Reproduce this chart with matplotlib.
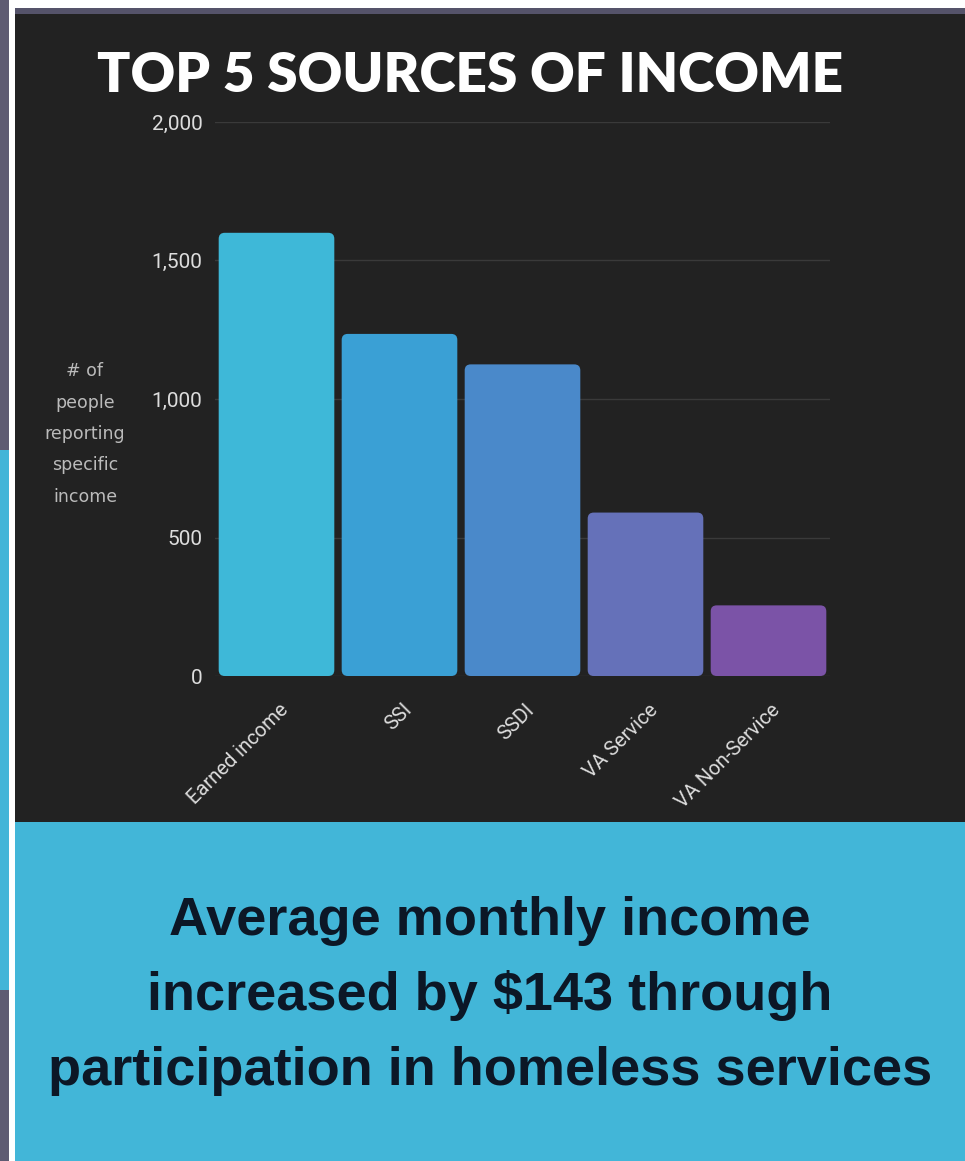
import matplotlib
matplotlib.use("Agg")
from matplotlib import pyplot as plt
from matplotlib.patches import Rectangle, FancyBboxPatch
from matplotlib.ticker import FuncFormatter
from matplotlib.transforms import ScaledTranslation

categories = ["Earned income", "SSI", "SSDI", "VA Service", "VA Non-Service"]
counts = [1600, 1235, 1125, 590, 255]
bar_colors = ["#3eb8d8", "#3aa0d5", "#4a89ca", "#6571b9", "#7b53a7"]
y_ticks = [0, 500, 1000, 1500, 2000]

title = "TOP 5 SOURCES OF INCOME"
ylabel = "# of\npeople\nreporting\nspecific\nincome"
footer = ["Average monthly income",
          "increased by $143 through",
          "participation in homeless services"]

W, H = 965, 1161
fig = plt.figure(figsize=(W / 100, H / 100), dpi=100)
fig.patch.set_facecolor("white")


def px_rect(x0, y0, x1, y1, color):
    # rectangle given in pixel coords from top-left
    fig.patches.append(Rectangle((x0 / W, 1 - y1 / H), (x1 - x0) / W, (y1 - y0) / H,
                                 transform=fig.transFigure, facecolor=color,
                                 edgecolor="none", zorder=-1))


# background panels
px_rect(0, 0, 9, 450, "#5e5b72")
px_rect(0, 450, 9, 990, "#42b5d8")
px_rect(0, 990, 9, H, "#5e5b72")
px_rect(15, 8, W, 14, "#55536a")
px_rect(15, 14, W, 822, "#222222")
px_rect(15, 822, W, H, "#42b6d8")

ax = fig.add_axes([215 / W, 1 - 676 / H, 615 / W, (676 - 122) / H])
ax.set_facecolor("none")
ax.set_xlim(-0.5, len(categories) - 0.5)
ax.set_ylim(0, 2000)

bars = ax.bar(range(len(categories)), counts, width=0.94, color=bar_colors)
# swap plain bars for rounded ones
px_x = 615 / len(categories)
px_y = (676 - 122) / 2000
for b in bars:
    b.set_visible(False)
    ax.add_patch(FancyBboxPatch((b.get_x(), b.get_y()), b.get_width(), b.get_height(),
                                boxstyle="round,pad=0,rounding_size=%f" % (6 / px_x),
                                mutation_aspect=px_x / px_y,
                                facecolor=b.get_facecolor(), edgecolor="none", zorder=3))

ax.set_yticks(y_ticks)
ax.yaxis.set_major_formatter(FuncFormatter(lambda v, p: f"{int(v):,}"))
ax.grid(axis="y", color="#3a3a3a", linewidth=1)
ax.set_axisbelow(True)
for s in ax.spines.values():
    s.set_visible(False)
ax.tick_params(axis="both", length=0, colors="#dddddd")
ax.tick_params(axis="y", pad=9, labelsize=15)
ax.tick_params(axis="x", pad=0)
ax.set_xticks(range(len(categories)))
ax.set_xticklabels(categories, rotation=45, ha="right", va="center", rotation_mode="anchor",
                   family="Roboto", color="#dddddd", fontsize=14.5)
shift = ScaledTranslation(9 / 100, -31 / 100, fig.dpi_scale_trans)
for t in ax.get_xticklabels():
    t.set_transform(t.get_transform() + shift)
for t in ax.get_yticklabels():
    t.set_family("Roboto")

fig.text(85 / W, 1 - 434 / H, ylabel, ha="center", va="center", color="#bbbbbb",
         fontsize=12.5, family="DejaVu Sans", linespacing=1.95)

fig.text(470 / W, 1 - 76 / H, title, ha="center", va="center", color="white",
         fontsize=39.5, family="Lato", fontweight="heavy")

for i, line in enumerate(footer):
    fig.text(490 / W, 1 - (935 + 75 * i) / H, line, ha="center", va="baseline",
             color="#0c1726", fontsize=39, family="Liberation Sans", fontweight="bold")

fig.savefig("out.png", dpi=100, facecolor=fig.get_facecolor())
